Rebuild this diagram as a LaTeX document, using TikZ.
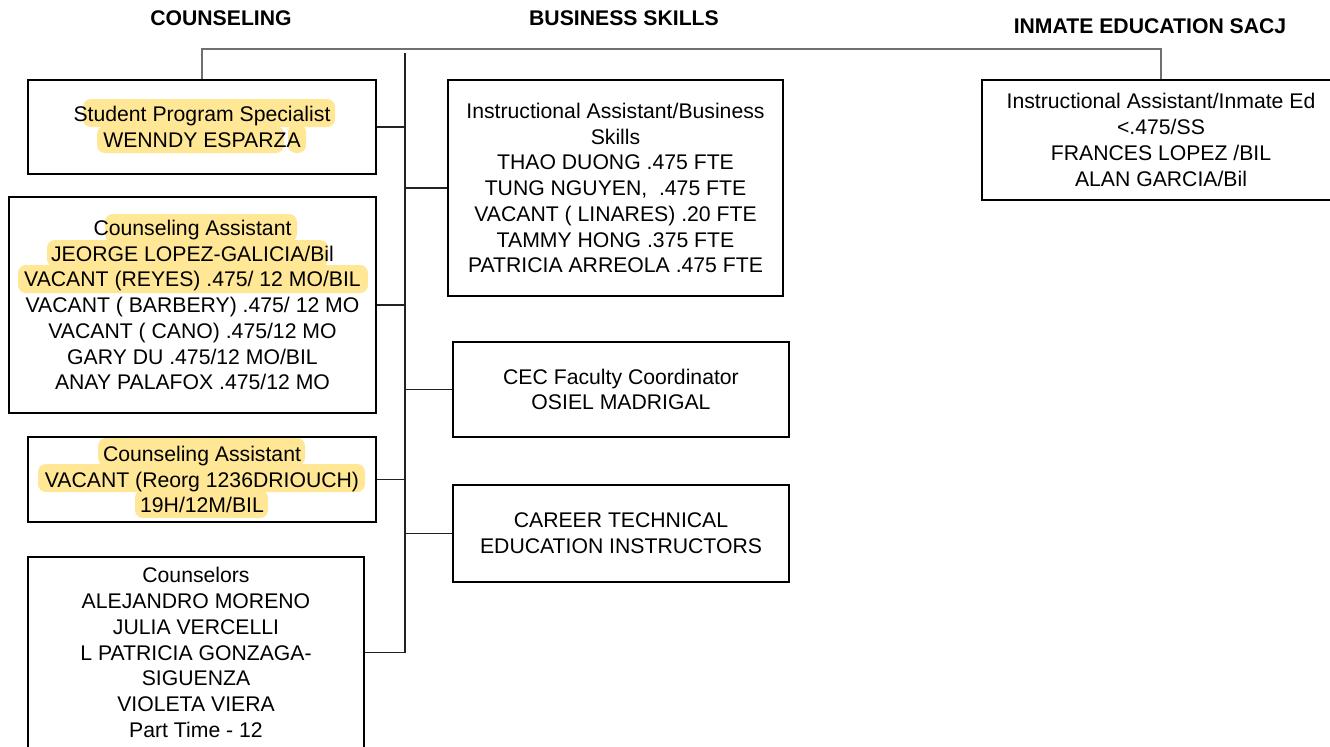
\documentclass[tikz,border=0pt]{standalone}
\usepackage{fontspec}
\setmainfont{Liberation Sans}
\definecolor{hl}{RGB}{255,231,150}
\definecolor{topline}{RGB}{112,112,112}
\definecolor{conn}{RGB}{34,34,34}
\tikzset{
  orgbox/.style={draw=black, line width=1.5pt, inner sep=0pt, align=center,
    font=\fontsize{15.9pt}{19.3pt}\selectfont},
  header/.style={font=\fontsize{15.9pt}{19.3pt}\selectfont\bfseries, inner sep=0pt},
  conline/.style={draw=conn, line width=1.1pt},
  topconn/.style={draw=topline, line width=1.5pt},
  hlbox/.style={fill=hl, rounded corners=6pt}
}
\begin{document}
\begin{tikzpicture}[x=0.75pt, y=-0.75pt]
\useasboundingbox (0,0) rectangle (1330,746);
% highlights
\fill[hlbox] (83,99) rectangle (335,127);
\fill[hlbox] (97,126) rectangle (284,153);
\fill[hlbox] (288,124) rectangle (306,153);
\fill[hlbox] (105,214) rectangle (297,242);
\fill[hlbox] (47,240) rectangle (328,267);
\fill[hlbox] (18,265) rectangle (368,293);
\fill[hlbox] (98,438) rectangle (305,466);
\fill[hlbox] (38,464) rectangle (365,492);
\fill[hlbox] (135,490) rectangle (268,518);
% headers
\node[header] (hc) at (221,18) {COUNSELING};
\node[header] (hb) at (624,18) {BUSINESS SKILLS};
\node[header] (hi) at (1150,26) {INMATE EDUCATION SACJ};
% boxes
\node[orgbox, minimum width=261pt, minimum height=70.5pt] (b1) at (202,127)
  {Student Program Specialist\\WENNDY ESPARZA};
\node[orgbox, minimum width=275.25pt, minimum height=162pt] (b2) at (192.5,305)
  {Counseling Assistant\\JEORGE LOPEZ-GALICIA/Bil\\VACANT (REYES) .475/ 12 MO/BIL\\VACANT ( BARBERY) .475/ 12 MO\\VACANT ( CANO) .475/12 MO\\GARY DU .475/12 MO/BIL\\ANAY PALAFOX .475/12 MO};
\node[orgbox, minimum width=261pt, minimum height=63.75pt] (b3) at (202,479.5)
  {Counseling Assistant\\VACANT (Reorg 1236DRIOUCH)\\19H/12M/BIL};
\node[orgbox, minimum width=252pt, minimum height=143.25pt] (b4) at (196,652.5)
  {Counselors\\ALEJANDRO MORENO\\JULIA VERCELLI\\L PATRICIA GONZAGA-\\SIGUENZA\\VIOLETA VIERA\\Part Time - 12};
\node[orgbox, minimum width=251.25pt, minimum height=162pt] (ia) at (615.5,188)
  {Instructional Assistant/Business\\Skills\\THAO DUONG .475 FTE\\TUNG NGUYEN,\ \ .475 FTE\\VACANT ( LINARES) .20 FTE\\TAMMY HONG .375 FTE\\PATRICIA ARREOLA .475 FTE};
\node[orgbox, minimum width=252pt, minimum height=71.25pt] (cec) at (621,389.5)
  {CEC Faculty Coordinator\\OSIEL MADRIGAL};
\node[orgbox, minimum width=252pt, minimum height=72.75pt] (cte) at (621,533.5)
  {CAREER TECHNICAL\\EDUCATION INSTRUCTORS};
\node[orgbox, minimum width=268.5pt, minimum height=90pt] (ie) at (1161,140)
  {Instructional Assistant/Inmate Ed\\<.475/SS\\FRANCES LOPEZ /BIL\\ALAN GARCIA/Bil};
% trunk
\coordinate (ttop) at (405,53);
\coordinate (tbot) at (405,653);
\coordinate (bar) at (0,49);
\draw[conline] (ttop) -- (tbot);
\draw[topconn] (b1.north) -- (b1.north |- bar) -- (ie.north |- bar) -- (ie.north);
\draw[conline] (b1.east) -- (b1.east -| ttop);
\draw[conline] (b2.east) -- (b2.east -| ttop);
\draw[conline] (b3.east) -- (b3.east -| ttop);
\draw[conline] (b4.east) -- (b4.east -| ttop);
\draw[conline] (ia.west) -- (ia.west -| ttop);
\draw[conline] (cec.west) -- (cec.west -| ttop);
\draw[conline] (cte.west) -- (cte.west -| ttop);
\end{tikzpicture}
\end{document}
